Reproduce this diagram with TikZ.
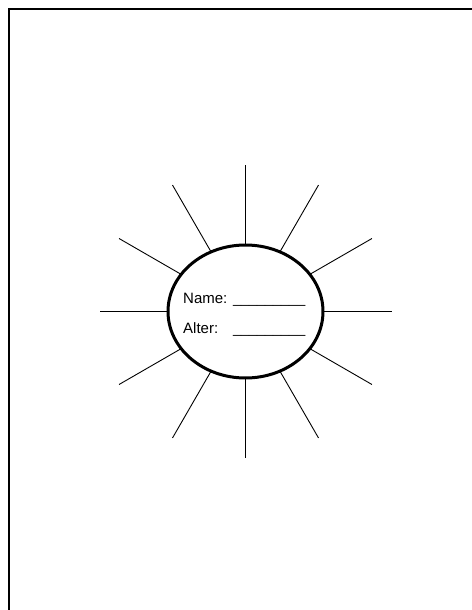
\documentclass[tikz,border=0pt]{standalone}
\usepackage{fontspec}
\setmainfont{Liberation Sans}
\usetikzlibrary{shapes.geometric,calc}
\begin{document}
\begin{tikzpicture}[x=1bp,y=-1bp,
  frame/.style={line width=1.5bp,black},
  ray/.style={line width=0.9bp,black},
  sun/.style={ellipse,draw,line width=3bp,minimum width=155bp,minimum height=133bp,inner sep=0pt,outer sep=0pt},
  lbl/.style={anchor=base west,inner sep=0pt,font=\fontsize{15bp}{17bp}\selectfont},
  blank/.style={anchor=base west,inner sep=0pt,font=\fontsize{14.4bp}{17bp}\selectfont}]
\useasboundingbox (0,0) rectangle (472,610);
\fill[white] (0,0) rectangle (472,610);
\coordinate (fb) at (9,612);
\coordinate (fc) at (9,9);
\coordinate (fr) at (474,9);
\draw[frame] (fb) -- (fc) -- (fr);
\node[sun] (c) at (245.5,311.5) {};
\foreach \a in {0,30,...,330}{
  \coordinate (o\a) at ($(c.center)+(\a:146bp)$);
  \draw[ray] (c.\a) -- (o\a);
}
\node[lbl] (n1) at (183,303.3) {Name:};
\node[blank] (n2) at (233,303.3) {\_\_\_\_\_\_\_\_\_};
\node[lbl] (a1) at (183,333) {Alter:};
\node[blank] (a2) at (233,333) {\_\_\_\_\_\_\_\_\_};
\end{tikzpicture}
\end{document}
